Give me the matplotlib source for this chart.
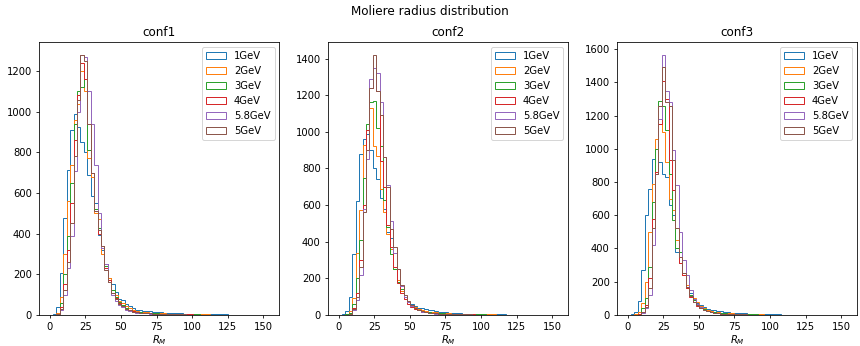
import numpy as np
import matplotlib
matplotlib.use("Agg")
import matplotlib.pyplot as plt

# bin edges of the Moliere radius histograms (64 bins, 0..153.6)
bin_edges = np.linspace(0, 153.6, 65)

energies = ["1GeV", "2GeV", "3GeV", "4GeV", "5.8GeV", "5GeV"]
configs = ["conf1", "conf2", "conf3"]

# counts per bin
conf1_1gev = [0, 3, 40, 205, 475, 715, 910, 990, 925, 850,
              800, 690, 585, 550, 395, 320, 250, 180, 150, 115,
              78, 72, 55, 42, 32, 26, 22, 20, 18, 17,
              15, 14, 12, 11, 10, 9, 8, 9, 7, 6,
              6, 5, 5, 4, 4, 3, 3, 3, 2, 2,
              2, 2, 1, 1, 1, 1, 1, 0, 1, 0, 0, 1, 0, 0]
conf1_2gev = [0, 1, 10, 90, 300, 560, 740, 960, 1040, 1200,
              1100, 770, 680, 500, 470, 300, 240, 180, 120, 100,
              70, 60, 45, 35, 25, 20, 16, 14, 12, 11,
              10, 9, 8, 7, 6, 6, 5, 5, 4, 4,
              3, 3, 3, 2, 2, 2, 2, 1, 1, 1,
              1, 1, 1, 1, 0, 1, 0, 0, 0, 0, 0, 0, 0, 0]
conf1_3gev = [0, 0, 5, 60, 200, 390, 650, 940, 1100, 1120,
              1160, 810, 700, 520, 430, 340, 240, 170, 120, 90,
              65, 50, 35, 26, 20, 16, 13, 11, 10, 9,
              8, 7, 6, 5, 5, 4, 4, 3, 3, 3,
              2, 2, 2, 2, 1, 1, 1, 1, 1, 0,
              1, 0, 0, 1, 0, 0, 0, 0, 0, 0, 0, 0, 0, 0]
conf1_4gev = [0, 0, 3, 40, 150, 320, 550, 860, 1080, 1240,
              1160, 940, 700, 510, 400, 340, 230, 170, 110, 85,
              60, 45, 30, 22, 17, 14, 11, 9, 8, 7,
              6, 6, 5, 4, 4, 3, 3, 3, 2, 2,
              2, 2, 1, 1, 1, 1, 1, 0, 1, 0,
              0, 0, 0, 0, 0, 0, 0, 0, 0, 0, 0, 0, 0, 0]
conf1_58gev = [0, 0, 2, 25, 100, 230, 390, 710, 1000, 1280,
               1270, 1100, 940, 740, 500, 330, 250, 160, 100, 70,
               50, 40, 25, 18, 14, 11, 9, 8, 7, 6,
               5, 5, 4, 4, 3, 3, 2, 2, 2, 2,
               1, 1, 1, 1, 1, 0, 1, 0, 0, 0,
               0, 0, 0, 0, 0, 0, 0, 0, 0, 0, 0, 0, 0, 0]
conf1_5gev = [0, 0, 2, 30, 120, 260, 450, 780, 1060, 1280,
              1250, 940, 700, 510, 420, 340, 220, 160, 110, 80,
              55, 42, 30, 22, 16, 13, 10, 9, 8, 7,
              6, 5, 5, 4, 3, 3, 3, 2, 2, 2,
              1, 1, 1, 1, 1, 1, 0, 0, 1, 0,
              0, 0, 0, 0, 0, 0, 0, 0, 0, 0, 0, 0, 0, 0]

conf2_1gev = [0, 5, 20, 100, 330, 620, 880, 960, 990, 900,
              800, 740, 640, 580, 450, 420, 260, 190, 130, 100,
              72, 60, 48, 40, 35, 30, 26, 24, 20, 18,
              15, 14, 12, 10, 9, 8, 7, 7, 6, 5,
              5, 4, 4, 3, 3, 3, 2, 2, 2, 1,
              1, 1, 1, 1, 1, 0, 1, 0, 0, 0, 0, 0, 0, 0]
conf2_2gev = [0, 1, 5, 20, 90, 340, 570, 930, 1010, 1130,
              920, 870, 690, 560, 440, 360, 250, 190, 130, 100,
              70, 55, 42, 33, 27, 22, 18, 15, 13, 11,
              10, 9, 8, 7, 6, 5, 5, 4, 4, 3,
              3, 3, 2, 2, 2, 2, 1, 1, 1, 1,
              1, 1, 0, 1, 0, 0, 0, 0, 0, 0, 0, 0, 0, 0]
conf2_3gev = [0, 0, 3, 10, 60, 200, 410, 750, 1045, 1160,
              1170, 1020, 920, 630, 480, 330, 250, 180, 140, 100,
              70, 52, 38, 28, 22, 17, 14, 12, 10, 9,
              8, 7, 6, 5, 5, 4, 3, 3, 3, 2,
              2, 2, 2, 1, 1, 1, 1, 1, 0, 1,
              0, 0, 0, 0, 0, 0, 0, 0, 0, 0, 0, 0, 0, 0]
conf2_4gev = [0, 0, 1, 5, 40, 120, 300, 600, 1010, 1240,
              1350, 1220, 840, 700, 490, 370, 260, 175, 120, 85,
              60, 45, 32, 24, 18, 14, 11, 9, 8, 7,
              6, 5, 5, 4, 3, 3, 3, 2, 2, 2,
              1, 1, 1, 1, 1, 0, 1, 0, 0, 0,
              0, 0, 0, 0, 0, 0, 0, 0, 0, 0, 0, 0, 0, 0]
conf2_58gev = [0, 0, 0, 3, 25, 80, 220, 580, 850, 1290,
               1350, 1320, 1160, 860, 710, 510, 340, 250, 160, 100,
               70, 50, 35, 25, 18, 14, 11, 9, 7, 6,
               5, 5, 4, 3, 3, 3, 2, 2, 2, 1,
               1, 1, 1, 1, 0, 1, 0, 0, 0, 0,
               0, 0, 0, 0, 0, 0, 0, 0, 0, 0, 0, 0, 0, 0]
conf2_5gev = [0, 0, 0, 4, 30, 100, 260, 560, 900, 1240,
              1420, 1220, 1090, 860, 700, 470, 370, 250, 165, 110,
              75, 52, 37, 27, 20, 15, 12, 10, 8, 7,
              6, 5, 4, 4, 3, 3, 2, 2, 2, 1,
              1, 1, 1, 1, 1, 0, 0, 1, 0, 0,
              0, 0, 0, 0, 0, 0, 0, 0, 0, 0, 0, 0, 0, 0]

conf3_1gev = [0, 3, 20, 85, 270, 600, 760, 940, 1000, 920,
              850, 830, 660, 600, 380, 310, 250, 160, 130, 90,
              70, 60, 45, 38, 32, 28, 25, 22, 18, 16,
              14, 13, 11, 10, 9, 8, 7, 6, 6, 5,
              4, 4, 3, 3, 3, 2, 2, 2, 1, 1,
              1, 1, 1, 0, 1, 0, 0, 0, 0, 0, 0, 0, 0, 0]
conf3_2gev = [0, 0, 3, 20, 70, 200, 500, 790, 1060, 1150,
              1100, 920, 700, 630, 450, 350, 240, 180, 120, 100,
              75, 55, 42, 32, 25, 20, 16, 14, 12, 10,
              9, 8, 7, 6, 5, 5, 4, 4, 3, 3,
              2, 2, 2, 2, 1, 1, 1, 1, 1, 0,
              1, 0, 0, 0, 1, 0, 0, 0, 0, 0, 0, 0, 0, 0]
conf3_3gev = [0, 0, 1, 5, 40, 100, 290, 680, 1000, 1290,
              1260, 1110, 850, 570, 400, 380, 250, 170, 120, 90,
              65, 48, 35, 26, 20, 16, 13, 11, 9, 8,
              7, 6, 5, 5, 4, 3, 3, 3, 2, 2,
              2, 1, 1, 1, 1, 1, 0, 1, 0, 0,
              0, 0, 0, 0, 0, 0, 0, 0, 0, 0, 0, 0, 0, 0]
conf3_4gev = [0, 0, 0, 3, 20, 60, 220, 580, 860, 1150,
              1410, 1300, 930, 750, 520, 310, 240, 160, 110, 80,
              55, 40, 30, 22, 17, 13, 10, 8, 7, 6,
              5, 5, 4, 3, 3, 2, 2, 2, 2, 1,
              1, 1, 1, 1, 0, 1, 0, 0, 0, 0,
              0, 0, 0, 0, 0, 0, 0, 0, 0, 0, 0, 0, 0, 0]
conf3_58gev = [0, 0, 0, 2, 10, 40, 120, 420, 850, 1180,
               1565, 1350, 1280, 990, 780, 500, 330, 240, 150, 95,
               65, 45, 32, 23, 17, 13, 10, 8, 6, 5,
               5, 4, 3, 3, 2, 2, 2, 1, 1, 1,
               1, 1, 0, 1, 0, 0, 0, 0, 0, 0,
               0, 0, 0, 0, 0, 0, 0, 0, 0, 0, 0, 0, 0, 0]
conf3_5gev = [0, 0, 0, 2, 15, 50, 160, 520, 850, 1260,
              1490, 1280, 1260, 930, 520, 350, 250, 170, 115, 80,
              58, 42, 30, 22, 16, 12, 10, 8, 7, 6,
              5, 4, 4, 3, 3, 2, 2, 2, 1, 1,
              1, 1, 1, 0, 1, 0, 0, 0, 0, 0,
              0, 0, 0, 0, 0, 0, 0, 0, 0, 0, 0, 0, 0, 0]

counts = {
    "conf1": [conf1_1gev, conf1_2gev, conf1_3gev, conf1_4gev, conf1_58gev, conf1_5gev],
    "conf2": [conf2_1gev, conf2_2gev, conf2_3gev, conf2_4gev, conf2_58gev, conf2_5gev],
    "conf3": [conf3_1gev, conf3_2gev, conf3_3gev, conf3_4gev, conf3_58gev, conf3_5gev],
}

# 12 inch wide figure rendered at 860 px
dpi = 860 / 12
fig, axes = plt.subplots(1, 3, figsize=(12, 346 / dpi), dpi=dpi)
fig.subplots_adjust(left=0.045, right=0.997, bottom=0.09, top=0.879, wspace=0.2)

for ax, conf in zip(axes, configs):
    for i, (label, c) in enumerate(zip(energies, counts[conf])):
        ax.hist(bin_edges[:-1], bins=bin_edges, weights=c, histtype="step",
                color="C%d" % i, linewidth=1.0, label=label)
    ax.set_title(conf)
    ax.set_xlabel("$R_M$", labelpad=1)
    ax.legend(loc="upper right")

fig.suptitle("Moliere radius distribution", y=0.985)
fig.savefig("out.png", dpi=dpi)
